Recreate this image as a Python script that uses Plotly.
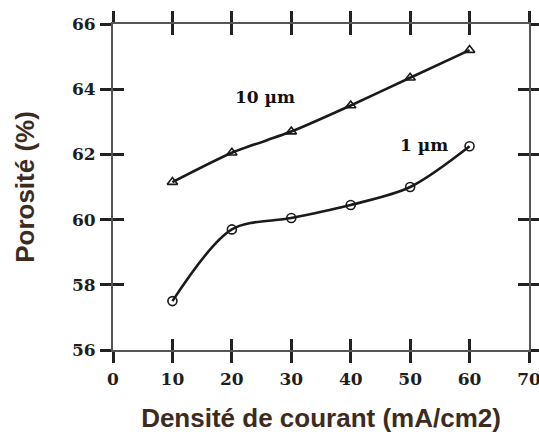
import plotly.graph_objects as go

# Porosity vs. current density for two particle sizes
density = [10, 20, 30, 40, 50, 60]
porosity_10um = [61.15, 62.05, 62.7, 63.5, 64.35, 65.2]
porosity_1um = [57.5, 59.7, 60.05, 60.45, 61.0, 62.25]

x_ticks = [0, 10, 20, 30, 40, 50, 60, 70]
y_ticks = [56, 58, 60, 62, 64, 66]

label_10um = "10 µm"
label_1um = "1 µm"
label_10um_pos = (25.6, 63.75)
label_1um_pos = (52.4, 62.3)

x_title = "Densité de courant (mA/cm2)"
y_title = "Porosité (%)"

line_color = "#1a1a1a"
axis_color = "#555555"
tick_color = "#222222"
title_color = "#3d2c1e"

tick_font = dict(family="DejaVu Serif", size=17, color="#1e1e1e")
title_font = dict(family="Liberation Sans", size=26, color=title_color, weight=700)


def bold(values):
    return [f"<b>{v}</b>" for v in values]


fig = go.Figure()

fig.add_trace(go.Scatter(
    x=density, y=porosity_10um, mode="lines+markers",
    line=dict(color=line_color, width=2.6, shape="spline", smoothing=0.6),
    marker=dict(symbol="triangle-up-open", size=9, color=line_color,
                line=dict(width=1.6, color=line_color)),
    showlegend=False, xaxis="x", yaxis="y",
))
fig.add_trace(go.Scatter(
    x=density, y=porosity_1um, mode="lines+markers",
    line=dict(color=line_color, width=2.6, shape="spline", smoothing=0.9),
    marker=dict(symbol="circle-open", size=9, color=line_color,
                line=dict(width=1.6, color=line_color)),
    showlegend=False, xaxis="x2", yaxis="y2",
))

x_range = [0, 70]
y_range = [56, 66]

common = dict(showgrid=False, zeroline=False, ticklen=11, tickwidth=3,
              tickcolor=tick_color, mirror="allticks", automargin=False)

fig.update_layout(
    width=539, height=435,
    margin=dict(l=113, r=10, t=24, b=85),
    paper_bgcolor="white", plot_bgcolor="white",
    xaxis=dict(range=x_range, tickvals=x_ticks, ticktext=bold(x_ticks),
               ticks="outside", showline=True, linecolor=axis_color, linewidth=2,
               tickfont=tick_font, ticklabelstandoff=2, ticklabeloverflow="allow",
               title=dict(text=x_title, standoff=20, font=title_font),
               **common),
    yaxis=dict(range=y_range, tickvals=y_ticks, ticktext=bold(y_ticks),
               ticks="outside", showline=True, linecolor=axis_color, linewidth=2,
               tickfont=tick_font, ticklabelstandoff=1, ticklabeloverflow="allow",
               title=dict(text=y_title, standoff=30, font=title_font),
               **common),
    xaxis2=dict(range=x_range, tickvals=x_ticks, ticks="inside",
                overlaying="x", showticklabels=False, showline=False,
                **common),
    yaxis2=dict(range=y_range, tickvals=y_ticks, ticks="inside",
                overlaying="y", showticklabels=False, showline=False,
                **common),
)

annot_font = dict(family="DejaVu Serif", size=17, color="#111111", weight=700)
fig.add_annotation(x=label_10um_pos[0], y=label_10um_pos[1], text=label_10um,
                   showarrow=False, font=annot_font, xref="x", yref="y")
fig.add_annotation(x=label_1um_pos[0], y=label_1um_pos[1], text=label_1um,
                   showarrow=False, font=annot_font, xref="x", yref="y")

fig.write_html("out.html")
